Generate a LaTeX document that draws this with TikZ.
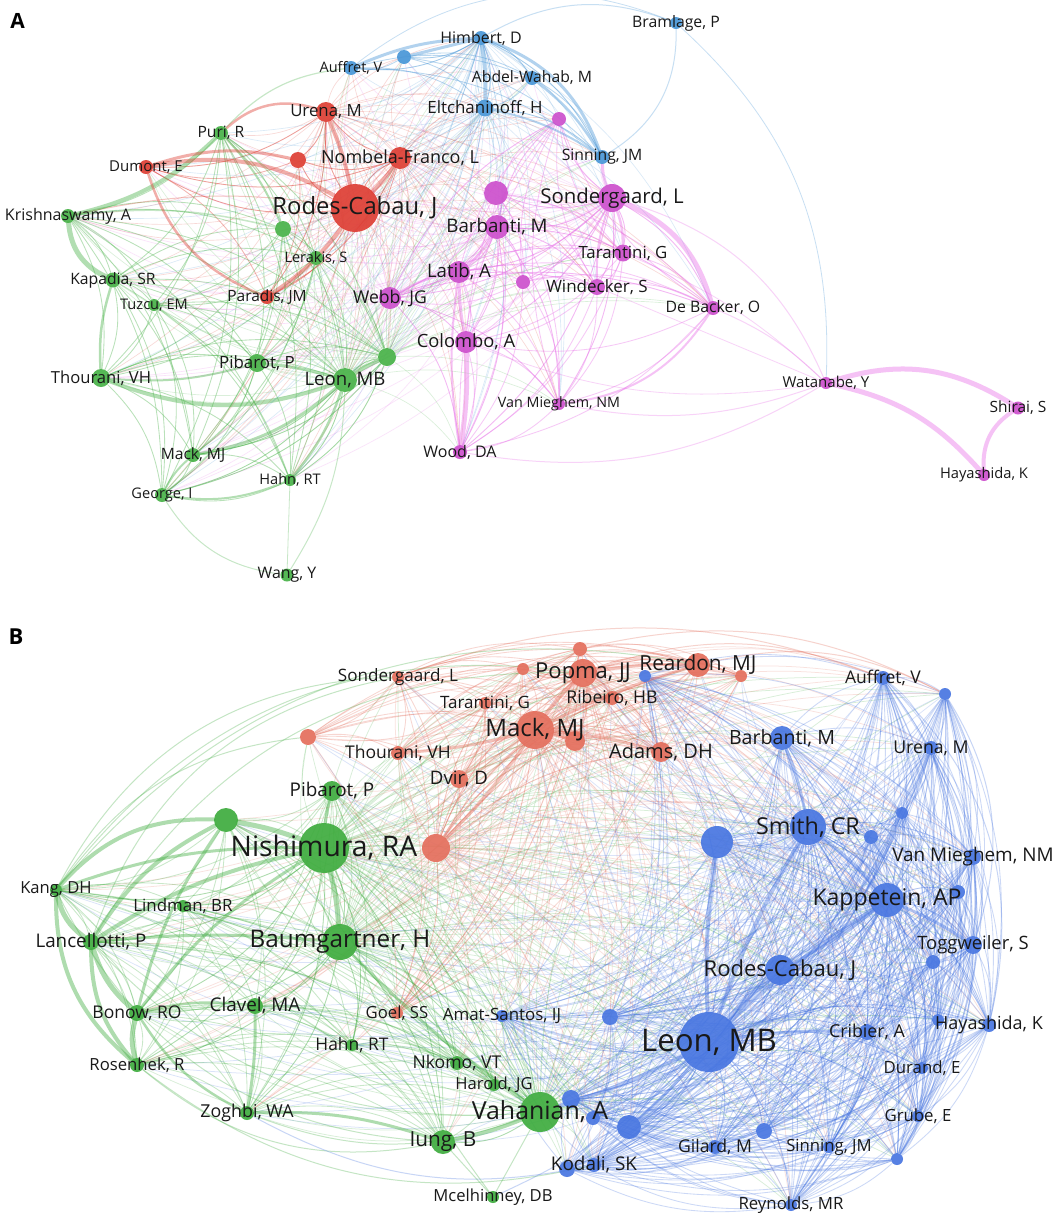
\documentclass[tikz,border=0pt]{standalone}
\usepackage{fontspec}
\setmainfont{Open Sans}
\pgfdeclarelayer{bg}
\pgfdeclarelayer{edges}
\pgfdeclarelayer{labels}
\pgfsetlayers{bg,edges,main,labels}
\definecolor{cAr}{RGB}{222,62,52}
\definecolor{cAg}{RGB}{72,178,72}
\definecolor{cAb}{RGB}{72,150,215}
\definecolor{cAp}{RGB}{205,80,205}
\definecolor{eAp}{RGB}{232,112,232}
\definecolor{cBr}{RGB}{228,110,92}
\definecolor{cBg}{RGB}{62,172,62}
\definecolor{cBb}{RGB}{72,118,225}
\definecolor{labtext}{RGB}{25,25,25}
\tikzset{
  vn/.style={circle,inner sep=0pt,minimum size=#1,fill opacity=0.92},
  lbl/.style={inner sep=0pt,text=labtext},
  ceA/.style={line width=0.85pt,draw opacity=0.38},
  heA/.style={line width=0.65pt,draw opacity=0.2},
  ceB/.style={line width=0.85pt,draw opacity=0.28},
  heB/.style={line width=0.75pt,draw opacity=0.2},
  te/.style={line width=#1,draw opacity=0.42,line cap=round},
  fe/.style={line width=#1,draw opacity=0.3},
}
\newcommand\VN[7]{%
  \node[vn=#4pt,fill=#5] (#1) at (#2,#3) {};
  \if\relax\detokenize{#7}\relax\else
  \begin{pgfonlayer}{labels}
  \node[lbl,font=\fontsize{#6}{#6}\selectfont] (#1-l) at (#2,#3) {#7};
  \end{pgfonlayer}\fi}
\newcommand\clq[3]{%
  \foreach \a [count=\i] in #1{%
    \foreach \b [count=\j] in #1{%
      \ifnum\j>\i\relax\draw[#3,draw=#2] (\a) to[bend left=18] (\b);\fi}}}
\newcommand\hub[3]{%
  \foreach \h/\hc in {#1}{%
    \foreach \b in #2{%
      \edef\tmpa{\h}\edef\tmpb{\b}%
      \ifx\tmpa\tmpb\else\draw[#3,draw=\hc] (\h) to[bend left=18] (\b);\fi}}}
\newcommand\thk[2]{%
  \foreach \a/\b/\w/\bd/\cl in {#1}{%
    \draw[#2=\w pt,draw=\cl] (\a) to[bend left=\bd] (\b);}}
\def\redA{rcA,nfA,urA,r1A,duA,paA}
\def\blueA{himA,b1A,auA,awA,elA,siA}
\def\pinkA{sgA,p1A,baA,laA,p2A,weA,taA,wiA,dbA,coA,vmA,woA,p3A}
\def\greenA{puA,krA,kaA,g1A,leA,tuA,thA,piA,lmA,g2A,maA,haA,geA}
\def\coreA{rcA,nfA,urA,r1A,duA,paA,himA,b1A,auA,awA,elA,siA,sgA,p1A,baA,laA,p2A,weA,taA,wiA,dbA,coA,vmA,woA,p3A,puA,krA,kaA,g1A,leA,tuA,thA,piA,lmA,g2A,maA,haA,geA}
\def\redB{sgB,taB,r1B,thB,dvB,r2B,pmB,r3B,r4B,reB,r5B,riB,mkB,r6B,adB,goB}
\def\greenB{piB,g1B,niB,kgB,liB,lcB,bmB,clB,boB,roB,zoB,haB,nkB,hrB,vaB,iuB}
\def\blueB{b1B,baB,auB,b2B,urB,b3B,smB,b4B,b5B,vmB,kpB,b6B,toB,b7B,rcB,b8B,lnB,crB,b9B,hyB,duB,grB,b10B,siB,b11B,giB,rnB,koB,b12B,b13B,b14B,b15B,amB}
\def\allB{sgB,taB,r1B,thB,dvB,r2B,pmB,r3B,r4B,reB,r5B,riB,mkB,r6B,adB,goB,piB,g1B,niB,kgB,liB,lcB,bmB,clB,boB,roB,zoB,haB,nkB,hrB,vaB,iuB,b1B,baB,auB,b2B,urB,b3B,smB,b4B,b5B,vmB,kpB,b6B,toB,b7B,rcB,b8B,lnB,crB,b9B,hyB,duB,grB,b10B,siB,b11B,giB,rnB,koB,b12B,b13B,b14B,b15B,amB}
\begin{document}
\begin{tikzpicture}[x=1pt,y=-1pt]
\begin{pgfonlayer}{bg}
\fill[white] (0,0) rectangle (1056,1219);
\end{pgfonlayer}
\useasboundingbox (0,0) rectangle (1056,1219);
% panel letters
\node[font=\fontsize{21}{21}\selectfont\bfseries] (letA) at (17.5,20.5) {A};
\node[font=\fontsize{22}{22}\selectfont\bfseries] (letB) at (16,637) {B};
% ---------- Panel A nodes ----------
\VN{himA}{481}{38}{14}{cAb}{16}{Himbert, D}
\VN{b1A}{404}{57}{14}{cAb}{1}{}
\VN{auA}{351}{68}{14}{cAb}{14.5}{Auffret, V}
\VN{awA}{532}{78}{14}{cAb}{15.7}{Abdel-Wahab, M}
\VN{elA}{485}{108}{17}{cAb}{16.9}{Eltchaninoff, H}
\VN{brA}{676}{23}{12}{cAb}{15.8}{Bramlage, P}
\VN{siA}{602}{157}{14}{cAb}{15.7}{Sinning, JM}
\VN{p3A}{559}{119}{14}{cAp}{1}{}
\VN{urA}{326}{112}{20}{cAr}{16.8}{Urena, M}
\VN{puA}{221}{133}{14}{cAg}{15.6}{Puri, R}
\VN{duA}{146}{167}{14}{cAr}{15}{Dumont, E}
\VN{r1A}{298}{160}{16}{cAr}{1}{}
\VN{nfA}{400}{158}{22}{cAr}{18}{Nombela-Franco, L}
\VN{rcA}{355}{208}{48}{cAr}{23.8}{Rodes-Cabau, J}
\VN{p1A}{496}{193}{24}{cAp}{1}{}
\VN{sgA}{612}{198}{28}{cAp}{20.4}{Sondergaard, L}
\VN{krA}{68}{216}{14}{cAg}{16}{Krishnaswamy, A}
\VN{g1A}{283}{229}{16}{cAg}{1}{}
\VN{baA}{497}{227}{24}{cAp}{18.7}{Barbanti, M}
\VN{leA}{316}{258}{14}{cAg}{14.5}{Lerakis, S}
\VN{kaA}{113}{280}{15}{cAg}{15.7}{Kapadia, SR}
\VN{laA}{459}{272}{22}{cAp}{18.6}{Latib, A}
\VN{p2A}{523}{282}{14}{cAp}{1}{}
\VN{taA}{623}{253}{17}{cAp}{16.8}{Tarantini, G}
\VN{wiA}{597}{287}{16}{cAp}{17}{Windecker, S}
\VN{paA}{267}{297}{14}{cAr}{15.5}{Paradis, JM}
\VN{weA}{390}{298}{22}{cAp}{17.6}{Webb, JG}
\VN{tuA}{154}{305}{12}{cAg}{14.6}{Tuzcu, EM}
\VN{dbA}{713}{308}{14}{cAp}{15.8}{De Backer, O}
\VN{coA}{466}{342}{22}{cAp}{18.3}{Colombo, A}
\VN{g2A}{387}{357}{18}{cAg}{1}{}
\VN{piA}{257}{363}{18}{cAg}{16.9}{Pibarot, P}
\VN{thA}{101}{378}{18}{cAg}{16.6}{Thourani, VH}
\VN{lmA}{345}{380}{24}{cAg}{18.6}{Leon, MB}
\VN{waA}{826}{383}{12}{cAp}{15}{Watanabe, Y}
\VN{vmA}{559}{404}{12}{cAp}{14.3}{Van Mieghem, NM}
\VN{shA}{1018}{408}{13}{cAp}{15.5}{Shirai, S}
\VN{woA}{460}{452}{14}{cAp}{16}{Wood, DA}
\VN{maA}{193}{455}{14}{cAg}{15.6}{Mack, MJ}
\VN{hyA}{984}{475}{12}{cAp}{14.7}{Hayashida, K}
\VN{haA}{290}{480}{12}{cAg}{14.6}{Hahn, RT}
\VN{geA}{162}{495}{14}{cAg}{14.6}{George, I}
\VN{wgA}{287}{575}{13}{cAg}{15.9}{Wang, Y}
% ---------- Panel B nodes ----------
\VN{sgB}{398}{677}{12}{cBr}{17.1}{Sondergaard, L}
\VN{r3B}{580}{649}{14}{cBr}{1}{}
\VN{r4B}{523}{669}{12}{cBr}{1}{}
\VN{pmB}{583}{673}{28}{cBr}{22}{Popma, JJ}
\VN{b1B}{645}{676}{12}{cBb}{1}{}
\VN{reB}{698}{665}{24}{cBr}{20.8}{Reardon, MJ}
\VN{r5B}{741}{676}{12}{cBr}{1}{}
\VN{auB}{883}{678}{14}{cBb}{17.5}{Auffret, V}
\VN{b2B}{945}{694}{12}{cBb}{1}{}
\VN{riB}{612}{698}{14}{cBr}{17.6}{Ribeiro, HB}
\VN{taB}{485}{703}{12}{cBr}{17}{Tarantini, G}
\VN{mkB}{535}{730}{38}{cBr}{24}{Mack, MJ}
\VN{r1B}{308}{737}{16}{cBr}{1}{}
\VN{baB}{782}{738}{24}{cBb}{19.6}{Barbanti, M}
\VN{r6B}{575}{741}{20}{cBr}{1}{}
\VN{urB}{931}{748}{14}{cBb}{17.7}{Urena, M}
\VN{adB}{661}{752}{20}{cBr}{20}{Adams, DH}
\VN{thB}{398}{753}{14}{cBr}{17.5}{Thourani, VH}
\VN{dvB}{459}{779}{18}{cBr}{18.6}{Dvir, D}
\VN{piB}{332}{791}{20}{cBg}{18.9}{Pibarot, P}
\VN{b3B}{902}{813}{12}{cBb}{1}{}
\VN{g1B}{226}{820}{24}{cBg}{1}{}
\VN{smB}{808}{827}{36}{cBb}{23.3}{Smith, CR}
\VN{b5B}{871}{837}{14}{cBb}{1}{}
\VN{b4B}{717}{842}{32}{cBb}{1}{}
\VN{niB}{324}{848}{50}{cBg}{28.3}{Nishimura, RA}
\VN{r2B}{436}{848}{28}{cBr}{1}{}
\VN{vmB}{973}{857}{16}{cBb}{18.9}{Van Mieghem, NM}
\VN{kgB}{56}{890}{12}{cBg}{16.6}{Kang, DH}
\VN{b6B}{958}{892}{14}{cBb}{1}{}
\VN{kpB}{887}{900}{34}{cBb}{23}{Kappetein, AP}
\VN{liB}{183}{906}{12}{cBg}{16.9}{Lindman, BR}
\VN{lcB}{91}{942}{16}{cBg}{18.8}{Lancellotti, P}
\VN{bmB}{340}{942}{36}{cBg}{24.3}{Baumgartner, H}
\VN{toB}{973}{945}{18}{cBb}{18.4}{Toggweiler, S}
\VN{b7B}{933}{962}{14}{cBb}{1}{}
\VN{rcB}{780}{970}{30}{cBb}{22}{Rodes-Cabau, J}
\VN{clB}{255}{1006}{16}{cBg}{18.9}{Clavel, MA}
\VN{boB}{137}{1013}{16}{cBg}{17.5}{Bonow, RO}
\VN{goB}{397}{1013}{12}{cBr}{16.7}{Goel, SS}
\VN{amB}{502}{1016}{12}{cBb}{16.9}{Amat-Santos, IJ}
\VN{b8B}{610}{1017}{16}{cBb}{1}{}
\VN{b9B}{938}{1020}{12}{cBb}{1}{}
\VN{hyB}{989}{1025}{14}{cBb}{18}{Hayashida, K}
\VN{crB}{867}{1032}{16}{cBb}{17.8}{Cribier, A}
\VN{lnB}{709}{1042}{60}{cBb}{31.2}{Leon, MB}
\VN{haB}{352}{1045}{12}{cBg}{17.4}{Hahn, RT}
\VN{nkB}{457}{1063}{14}{cBg}{17.6}{Nkomo, VT}
\VN{roB}{137}{1065}{14}{cBg}{16.7}{Rosenhek, R}
\VN{duB}{922}{1068}{12}{cBb}{16.8}{Durand, E}
\VN{hrB}{494}{1085}{12}{cBg}{16.6}{Harold, JG}
\VN{b14B}{571}{1099}{18}{cBb}{1}{}
\VN{vaB}{540}{1112}{40}{cBg}{24.9}{Vahanian, A}
\VN{zoB}{247}{1113}{14}{cBg}{17.8}{Zoghbi, WA}
\VN{grB}{918}{1116}{12}{cBb}{16.8}{Grube, E}
\VN{b15B}{593}{1118}{14}{cBb}{1}{}
\VN{b13B}{629}{1127}{24}{cBb}{1}{}
\VN{b11B}{764}{1131}{16}{cBb}{1}{}
\VN{iuB}{443}{1142}{24}{cBg}{20.8}{Iung, B}
\VN{giB}{715}{1147}{14}{cBb}{17.6}{Gilard, M}
\VN{siB}{829}{1147}{12}{cBb}{16.7}{Sinning, JM}
\VN{b10B}{897}{1159}{12}{cBb}{1}{}
\VN{koB}{594}{1165}{14}{cBb}{18.9}{Kodali, SK}
\VN{b12B}{567}{1169}{16}{cBb}{1}{}
\VN{mcB}{493}{1197}{12}{cBg}{16.6}{Mcelhinney, DB}
\VN{rnB}{791}{1205}{12}{cBb}{16.8}{Reynolds, MR}
% ---------- edges ----------
\begin{pgfonlayer}{edges}
% Panel A
\hub{rcA/cAr,nfA/cAr,urA/cAr,sgA/eAp,baA/eAp,weA/eAp,lmA/cAg,g2A/cAg,himA/cAb,elA/cAb}{\coreA}{heA}
\clq{\redA}{cAr}{ceA}
\clq{\blueA}{cAb}{ceA}
\clq{\pinkA}{eAp}{ceA}
\clq{\greenA}{cAg}{ceA}
\thk{brA/siA/1/30/cAb,himA/brA/1/25/cAb,auA/brA/0.8/30/cAb,brA/waA/0.8/25/cAb,
  dbA/waA/1/10/eAp,vmA/waA/1/-15/eAp,woA/waA/1/-20/eAp,coA/waA/0.8/-15/eAp,
  sgA/waA/1/25/eAp,taA/waA/0.8/10/eAp,wiA/waA/0.8/0/eAp,
  wgA/geA/1/25/cAg,lmA/wgA/1/15/cAg,haA/wgA/0.8/0/cAg,puA/auA/1.2/20/cAg,
  krA/g1A/1.5/10/cAg,krA/rcA/1/10/cAr}{fe}
\thk{waA/shA/5/25/eAp,waA/hyA/5/18/eAp,shA/hyA/4/-30/eAp,sgA/dbA/5/25/eAp,
  coA/woA/5/5/eAp,laA/coA/3/-5/eAp,laA/woA/2/-8/eAp,dbA/vmA/2/25/eAp,
  sgA/siA/3/10/eAp,sgA/taA/2.5/10/eAp,sgA/wiA/2/-10/eAp,baA/laA/2.5/10/eAp,
  weA/laA/2.5/10/eAp,
  krA/kaA/5/-30/cAg,krA/puA/4/-15/cAg,kaA/thA/2.5/-10/cAg,thA/lmA/4/-20/cAg,
  thA/piA/2/-10/cAg,maA/lmA/3/-15/cAg,haA/lmA/2.5/-10/cAg,geA/haA/2/-15/cAg,
  geA/maA/2/10/cAg,lmA/g2A/4/5/cAg,lmA/piA/3/-5/cAg,puA/g1A/2/10/cAg,
  duA/rcA/4/20/cAr,duA/r1A/3/15/cAr,paA/rcA/4/-10/cAr,duA/paA/2.5/-25/cAr,
  urA/rcA/4/5/cAr,nfA/rcA/4/5/cAr,urA/puA/2.5/-30/cAr,
  himA/elA/4/5/cAb,himA/siA/3/25/cAb,himA/auA/3/-10/cAb,himA/b1A/3/0/cAb,
  awA/siA/2.5/10/cAb,elA/siA/2/10/cAb}{te}
% Panel B
\hub{lnB/cBb,smB/cBb,kpB/cBb,niB/cBg,bmB/cBg,vaB/cBg,mkB/cBr,pmB/cBr,r2B/cBr}{\allB}{heB}
\clq{\redB}{cBr}{ceB}
\clq{\greenB}{cBg}{ceB}
\clq{\blueB}{cBb}{ceB}
\thk{kgB/sgB/1/30/cBg,lcB/pmB/1/30/cBg,kgB/r1B/1/25/cBg,kgB/pmB/1/30/cBg,
  lcB/sgB/1/30/cBg,kgB/reB/1/30/cBg,roB/iuB/1/-25/cBg,zoB/vaB/1/-20/cBg,
  roB/koB/1/-25/cBg,zoB/koB/1/-20/cBb,lcB/vaB/1/-25/cBg,kgB/iuB/1/-30/cBg,
  b2B/b10B/1/25/cBb,auB/hyB/1/30/cBb,b2B/toB/1/25/cBb,urB/grB/1/25/cBb,
  vmB/b10B/1/20/cBb,auB/rnB/1/30/cBb,sgB/auB/1/20/cBr,r3B/b2B/1/20/cBr,
  pmB/auB/1/20/cBr,reB/b2B/1/20/cBr,mcB/iuB/1/0/cBg,mcB/vaB/1/0/cBg,
  mcB/niB/1/10/cBg,mcB/lnB/1/-10/cBb}{fe}
\thk{kgB/lcB/5/-20/cBg,kgB/roB/4/-25/cBg,lcB/boB/5/-15/cBg,boB/roB/5/-15/cBg,
  lcB/roB/4/-20/cBg,kgB/niB/3/10/cBg,lcB/niB/4/10/cBg,g1B/niB/5/5/cBg,
  niB/bmB/5/5/cBg,lcB/bmB/3/5/cBg,boB/niB/3/10/cBg,g1B/kgB/4/-25/cBg,
  g1B/lcB/4/-15/cBg,g1B/boB/3/-10/cBg,vaB/iuB/4/5/cBg,iuB/zoB/3/-10/cBg,
  vaB/bmB/3/5/cBg,clB/zoB/3/5/cBg,boB/zoB/2.5/-15/cBg,boB/clB/2.5/10/cBg,
  niB/piB/3/5/cBg,
  lnB/rcB/5/5/cBb,lnB/smB/4/5/cBb,lnB/kpB/4/5/cBb,lnB/b4B/4/5/cBb,
  lnB/vaB/4/5/cBb,lnB/b13B/3/5/cBb,smB/kpB/4/5/cBb,kpB/toB/3/5/cBb,
  kpB/rcB/3/5/cBb,lnB/crB/3/5/cBb,baB/smB/3/5/cBb,
  mkB/pmB/4/5/cBr,mkB/reB/3/5/cBr,mkB/r6B/4/5/cBr,mkB/adB/3/5/cBr,
  pmB/reB/3/5/cBr,mkB/r2B/3/5/cBr,mkB/thB/3/5/cBr}{te}
\end{pgfonlayer}
\end{tikzpicture}
\end{document}
